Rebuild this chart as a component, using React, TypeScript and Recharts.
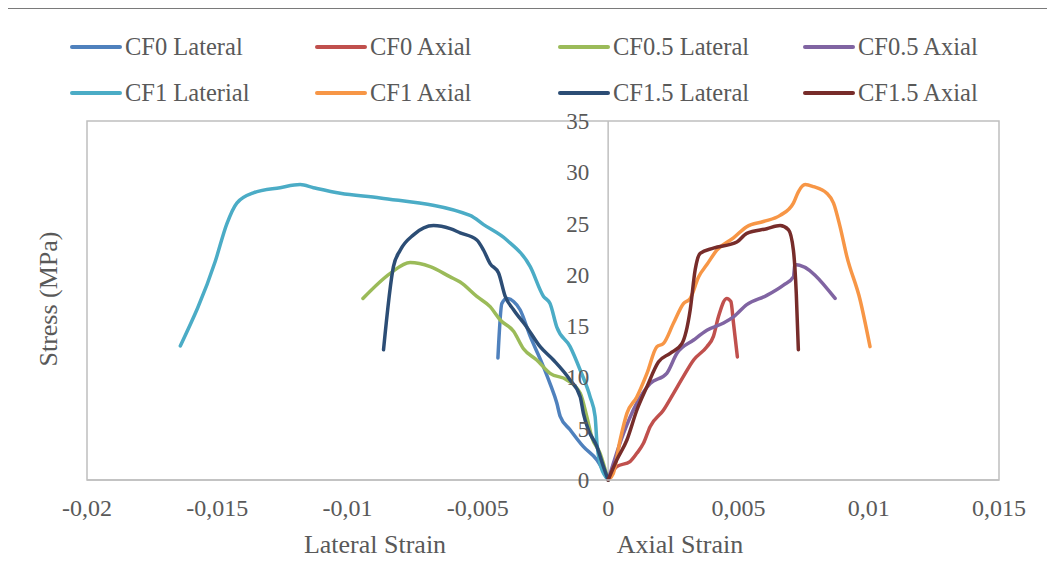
import React from 'react'
import {
  LineChart,
  Line,
  XAxis,
  YAxis,
  ReferenceLine,
  ReferenceArea,
  ReferenceDot,
} from 'recharts'

// [strain, stress MPa], each curve listed from the origin outward
const cf0Lateral: [number, number][] = [
  [0, 0], [-0.00043, 1.95], [-0.00095, 3.25], [-0.00146, 4.9], [-0.00184, 6.2],
  [-0.00197, 7.5], [-0.00223, 9.4], [-0.00254, 11.4], [-0.00299, 14.0],
  [-0.00338, 16.6], [-0.00363, 17.4], [-0.00389, 17.7], [-0.00408, 17.2], [-0.00423, 11.9],
]
const cf0Axial: [number, number][] = [
  [0, 0], [0.00033, 1.3], [0.00084, 1.8], [0.0011, 2.6], [0.00136, 3.6], [0.00161, 5.2],
  [0.00212, 6.8], [0.00251, 8.45], [0.00289, 10.1], [0.00328, 11.7], [0.00379, 13.0],
  [0.00404, 14.0], [0.00423, 15.9], [0.00455, 17.7], [0.00471, 17.4], [0.00481, 15.3],
  [0.00496, 12.0],
]
const cf05Lateral: [number, number][] = [
  [0, 0], [-0.00031, 2.6], [-0.00063, 4.2], [-0.00082, 6.2], [-0.00107, 8.45],
  [-0.00158, 9.75], [-0.00223, 10.4], [-0.00274, 11.7], [-0.00325, 12.8], [-0.00363, 14.5],
  [-0.00414, 15.6], [-0.00453, 16.9], [-0.00504, 17.9], [-0.00568, 19.3], [-0.00606, 19.8],
  [-0.00683, 20.8], [-0.0076, 21.2], [-0.00836, 20.15], [-0.00941, 17.7],
]
const cf05Axial: [number, number][] = [
  [0, 0], [0.00059, 4.55], [0.0011, 7.5], [0.00161, 9.4], [0.00225, 10.4], [0.00264, 12.35],
  [0.00328, 13.65], [0.00379, 14.6], [0.00443, 15.3], [0.00481, 15.9], [0.00532, 17.1],
  [0.00609, 18.0], [0.00673, 19.0], [0.00711, 19.8], [0.00717, 21.0], [0.00871, 17.7],
]
const cf1Lateral: [number, number][] = [
  [0, 0], [-0.00005, 0.17], [-0.00031, 1.6], [-0.00043, 3.6], [-0.0005, 6.2],
  [-0.00069, 8.1], [-0.00107, 10.7], [-0.00146, 13.0], [-0.00197, 14.9], [-0.00223, 17.2],
  [-0.00248, 17.9], [-0.00299, 20.8], [-0.00389, 23.4], [-0.00478, 24.9], [-0.0053, 25.8],
  [-0.00875, 27.5], [-0.01028, 27.95], [-0.01131, 28.5], [-0.01182, 28.8], [-0.01259, 28.5],
  [-0.01361, 28.0], [-0.01425, 27.0], [-0.01463, 25.0], [-0.01508, 21.3], [-0.01642, 13.07],
]
const cf1Axial: [number, number][] = [
  [0, 0], [0.0002, 0.65], [0.00046, 3.9], [0.00072, 6.5], [0.0011, 8.1], [0.00149, 10.4],
  [0.00187, 13.0], [0.00212, 13.3], [0.00251, 15.3], [0.00289, 17.2], [0.00315, 17.7],
  [0.00347, 19.8], [0.00379, 21.0], [0.00417, 22.4], [0.00481, 23.6], [0.00532, 24.7],
  [0.00596, 25.2], [0.0066, 25.8], [0.00711, 27.0], [0.0073, 28.1], [0.00756, 28.8],
  [0.00788, 28.6], [0.00839, 27.95], [0.00865, 27.0], [0.0089, 24.7], [0.00916, 21.8],
  [0.00967, 17.55], [0.01005, 13.0],
]
const cf15Lateral: [number, number][] = [
  [0, 0], [-0.00018, 1.3], [-0.00043, 3.25], [-0.00076, 4.9], [-0.00095, 6.5],
  [-0.00107, 8.1], [-0.00146, 9.75], [-0.0021, 11.7], [-0.00261, 13.0], [-0.00312, 14.9],
  [-0.00363, 16.6], [-0.00395, 17.9], [-0.00421, 20.2], [-0.00453, 21.1], [-0.00478, 22.4],
  [-0.00504, 23.4], [-0.00568, 24.1], [-0.00606, 24.5], [-0.0067, 24.8], [-0.00747, 23.9],
  [-0.00798, 22.4], [-0.00824, 20.8], [-0.00862, 12.7],
]
const cf15Axial: [number, number][] = [
  [0, 0], [0.00033, 1.95], [0.00072, 3.9], [0.0011, 6.8], [0.00149, 9.1], [0.00193, 11.5],
  [0.00238, 12.35], [0.00283, 13.3], [0.00315, 16.6], [0.00334, 20.5], [0.00353, 22.1],
  [0.00404, 22.6], [0.00494, 23.2], [0.00532, 24.05], [0.00609, 24.5], [0.0066, 24.8],
  [0.00692, 24.4], [0.00711, 22.4], [0.00722, 18.2], [0.0073, 12.7],
]

const seriesNames = [
  'CF0 Lateral', 'CF0 Axial', 'CF0.5 Lateral', 'CF0.5 Axial',
  'CF1 Laterial', 'CF1 Axial', 'CF1.5 Lateral', 'CF1.5 Axial',
]
const seriesData = [cf0Lateral, cf0Axial, cf05Lateral, cf05Axial, cf1Lateral, cf1Axial, cf15Lateral, cf15Axial]
const COLORS = ['#4F81BD', '#C0504D', '#9BBB59', '#8064A2', '#4BACC6', '#F79646', '#2C4D75', '#772C2A']

const xTicks = [-0.02, -0.015, -0.01, -0.005, 0, 0.005, 0.01, 0.015]
const yTicks = [0, 5, 10, 15, 20, 25, 30, 35]

const FONT = 'Liberation Serif, DejaVu Serif, serif'
const TEXT = '#595959'
const GRID = '#BFBFBF'
const FRAME = '#7a7a7a'

const fmt = (v: number) => String(v).replace('.', ',')

const XTick = ({ x, y, payload }: any) => (
  <text x={x} y={y} dy={34} textAnchor="middle" fill={TEXT} fontFamily="Liberation Serif" fontSize={24}>
    {fmt(payload.value)}
  </text>
)

// y tick labels sit against the axis at x = 0
const YLabel = ({ viewBox, value }: any) => (
  <text
    x={viewBox.x - 19}
    y={viewBox.y}
    dy={8}
    textAnchor="end"
    fill={TEXT}
    fontFamily="Liberation Serif"
    fontSize={23}
  >
    {value}
  </text>
)

export default function App() {
  const data = seriesData.map((s) => s.map(([x, y]) => ({ x, y })))

  return (
    <div
      style={{
        position: 'relative',
        width: 1055,
        height: 571,
        margin: -8,
        overflow: 'hidden',
        background: '#fff',
        fontFamily: FONT,
      }}
    >
      <LineChart
        width={1055}
        height={571}
        margin={{ top: 121, right: 56, bottom: 61, left: 87 }}
        style={{ position: 'absolute', left: 0, top: 0 }}
      >
        <XAxis
          type="number"
          dataKey="x"
          domain={[-0.02, 0.015]}
          ticks={xTicks}
          allowDataOverflow
          tickLine={false}
          tickSize={0}
          axisLine={{ stroke: GRID, strokeWidth: 1.5 }}
          tick={<XTick />}
        />
        <YAxis type="number" dataKey="y" domain={[0, 35]} ticks={yTicks} hide />
        <ReferenceArea x1={-0.02} x2={0.015} y1={0} y2={35} fill="none" stroke={GRID} strokeWidth={1.5} />
        <ReferenceLine x={0} stroke={GRID} strokeWidth={1.5} />
        {yTicks.map((v) => (
          <ReferenceDot
            key={v}
            x={0}
            y={v}
            r={0}
            stroke="none"
            fill="none"
            label={<YLabel value={String(v)} />}
          />
        ))}
        {data.map((d, i) => (
          <Line
            key={seriesNames[i]}
            data={d}
            dataKey="y"
            type="monotone"
            stroke={COLORS[i]}
            strokeWidth={3.5}
            strokeLinecap="round"
            strokeLinejoin="round"
            dot={false}
            activeDot={false}
            isAnimationActive={false}
          />
        ))}
      </LineChart>

      {/* legend, two rows of four */}
      {seriesNames.map((name, i) => (
        <div
          key={name}
          style={{
            position: 'absolute',
            left: [70, 315, 558, 803][i % 4],
            top: i < 4 ? 33 : 79,
            height: 28,
            display: 'flex',
            alignItems: 'center',
            color: TEXT,
            fontSize: 24.5,
            whiteSpace: 'nowrap',
          }}
        >
          <span style={{ display: 'inline-block', width: 52, height: 4, borderRadius: 2, background: COLORS[i], marginRight: 3 }} />
          {name}
        </div>
      ))}

      <div style={{ position: 'absolute', left: 375, top: 545, transform: 'translate(-50%, -50%)', color: TEXT, fontSize: 26, whiteSpace: 'nowrap' }}>
        Lateral Strain
      </div>
      <div style={{ position: 'absolute', left: 680, top: 545, transform: 'translate(-50%, -50%)', color: TEXT, fontSize: 26, whiteSpace: 'nowrap' }}>
        Axial Strain
      </div>
      <div
        style={{
          position: 'absolute',
          left: 49,
          top: 299,
          transform: 'translate(-50%, -50%) rotate(-90deg)',
          color: TEXT,
          fontSize: 26,
          whiteSpace: 'nowrap',
        }}
      >
        Stress (MPa)
      </div>

      {/* outer frame: top and left edges are the only ones inside the picture */}
      <div style={{ position: 'absolute', left: 3, top: 7, width: 1052, height: 2, background: FRAME }} />
      <div style={{ position: 'absolute', left: 3, top: 7, width: 2, height: 564, background: FRAME }} />
    </div>
  )
}
